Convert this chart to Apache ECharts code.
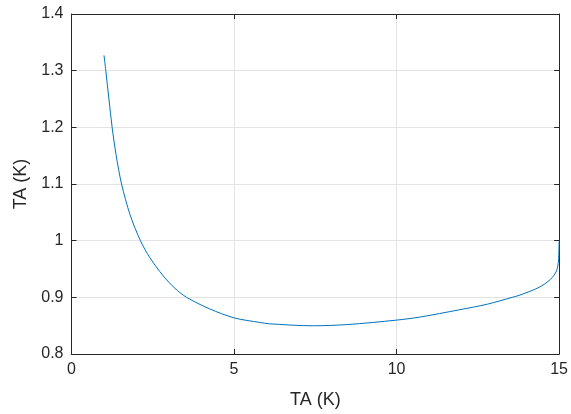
<!DOCTYPE html>
<html>
<head>
<meta charset="utf-8">
<style>
  html, body { margin: 0; padding: 0; background: #fff; }
  #chart { width: 571px; height: 414px; }
</style>
<script src="https://cdn.jsdelivr.net/npm/echarts@6/dist/echarts.min.js"></script>
</head>
<body>
<div id="chart"></div>
<script>
// Curve samples (x in K, y in K)
const xValues = [1.00, 1.055, 1.25, 1.37, 1.54, 1.80, 2.12, 2.41, 2.82, 3.18, 3.54, 4.25, 5.00,
                 5.79, 6.09, 7.42, 8.50, 10.00, 10.70, 11.93, 12.80, 13.56, 13.77, 14.38, 14.74, 14.92, 14.98, 15.00];
const yValues = [1.327, 1.300, 1.200, 1.152, 1.100, 1.046, 1.000, 0.970, 0.938, 0.916, 0.900, 0.8796, 0.8638,
                 0.8557, 0.8533, 0.8498, 0.852, 0.8598, 0.865, 0.878, 0.888, 0.900, 0.9035, 0.9175, 0.932, 0.9467, 0.964, 1.000];

const xTicks = { min: 0, max: 15, step: 5 };
const yTicks = { min: 0.8, max: 1.4, step: 0.1 };
const axisTitle = 'TA (K)';

const axisColor = '#262626';
const gridColor = '#e3e3e3';
const fontFamily = '"Liberation Sans", Arial, sans-serif';

const points = xValues.map((x, i) => [x, yValues[i]]);

const chart = echarts.init(document.getElementById('chart'), null, { renderer: 'canvas' });

function baseAxis(extra) {
  return Object.assign({
    axisLine: { show: true, onZero: false, lineStyle: { color: axisColor, width: 1 } },
    axisTick: { show: true, inside: true, length: 5, lineStyle: { color: axisColor, width: 1 } },
    splitLine: { show: false },
  }, extra);
}

chart.setOption({
  animation: false,
  backgroundColor: '#ffffff',
  grid: { left: 71.5, right: 11, top: 14, bottom: 57, containLabel: false },
  xAxis: [
    baseAxis({
      type: 'value', position: 'bottom',
      min: xTicks.min, max: xTicks.max, interval: xTicks.step,
      name: axisTitle, nameLocation: 'middle', nameGap: 37,
      nameTextStyle: { color: axisColor, fontSize: 18, fontFamily },
      axisLabel: { color: axisColor, fontSize: 16, fontFamily, margin: 8 },
      splitLine: { show: true, lineStyle: { color: gridColor, width: 1 } },
    }),
    baseAxis({
      type: 'value', position: 'top',
      min: xTicks.min, max: xTicks.max, interval: xTicks.step,
      axisLabel: { show: false },
    }),
  ],
  yAxis: [
    baseAxis({
      type: 'value', position: 'left',
      min: yTicks.min, max: yTicks.max, interval: yTicks.step,
      name: axisTitle, nameLocation: 'middle', nameGap: 38, nameRotate: 90,
      nameTextStyle: { color: axisColor, fontSize: 18, fontFamily },
      axisLabel: { color: axisColor, fontSize: 16, fontFamily, margin: 8 },
      splitLine: { show: true, lineStyle: { color: gridColor, width: 1 } },
    }),
    baseAxis({
      type: 'value', position: 'right',
      min: yTicks.min, max: yTicks.max, interval: yTicks.step,
      axisLabel: { show: false },
    }),
  ],
  series: [{
    type: 'line',
    data: points,
    xAxisIndex: 0,
    yAxisIndex: 0,
    showSymbol: false,
    smooth: 0.3,
    lineStyle: { color: '#0072BD', width: 1 },
    z: 3,
  }],
});
</script>
</body>
</html>
